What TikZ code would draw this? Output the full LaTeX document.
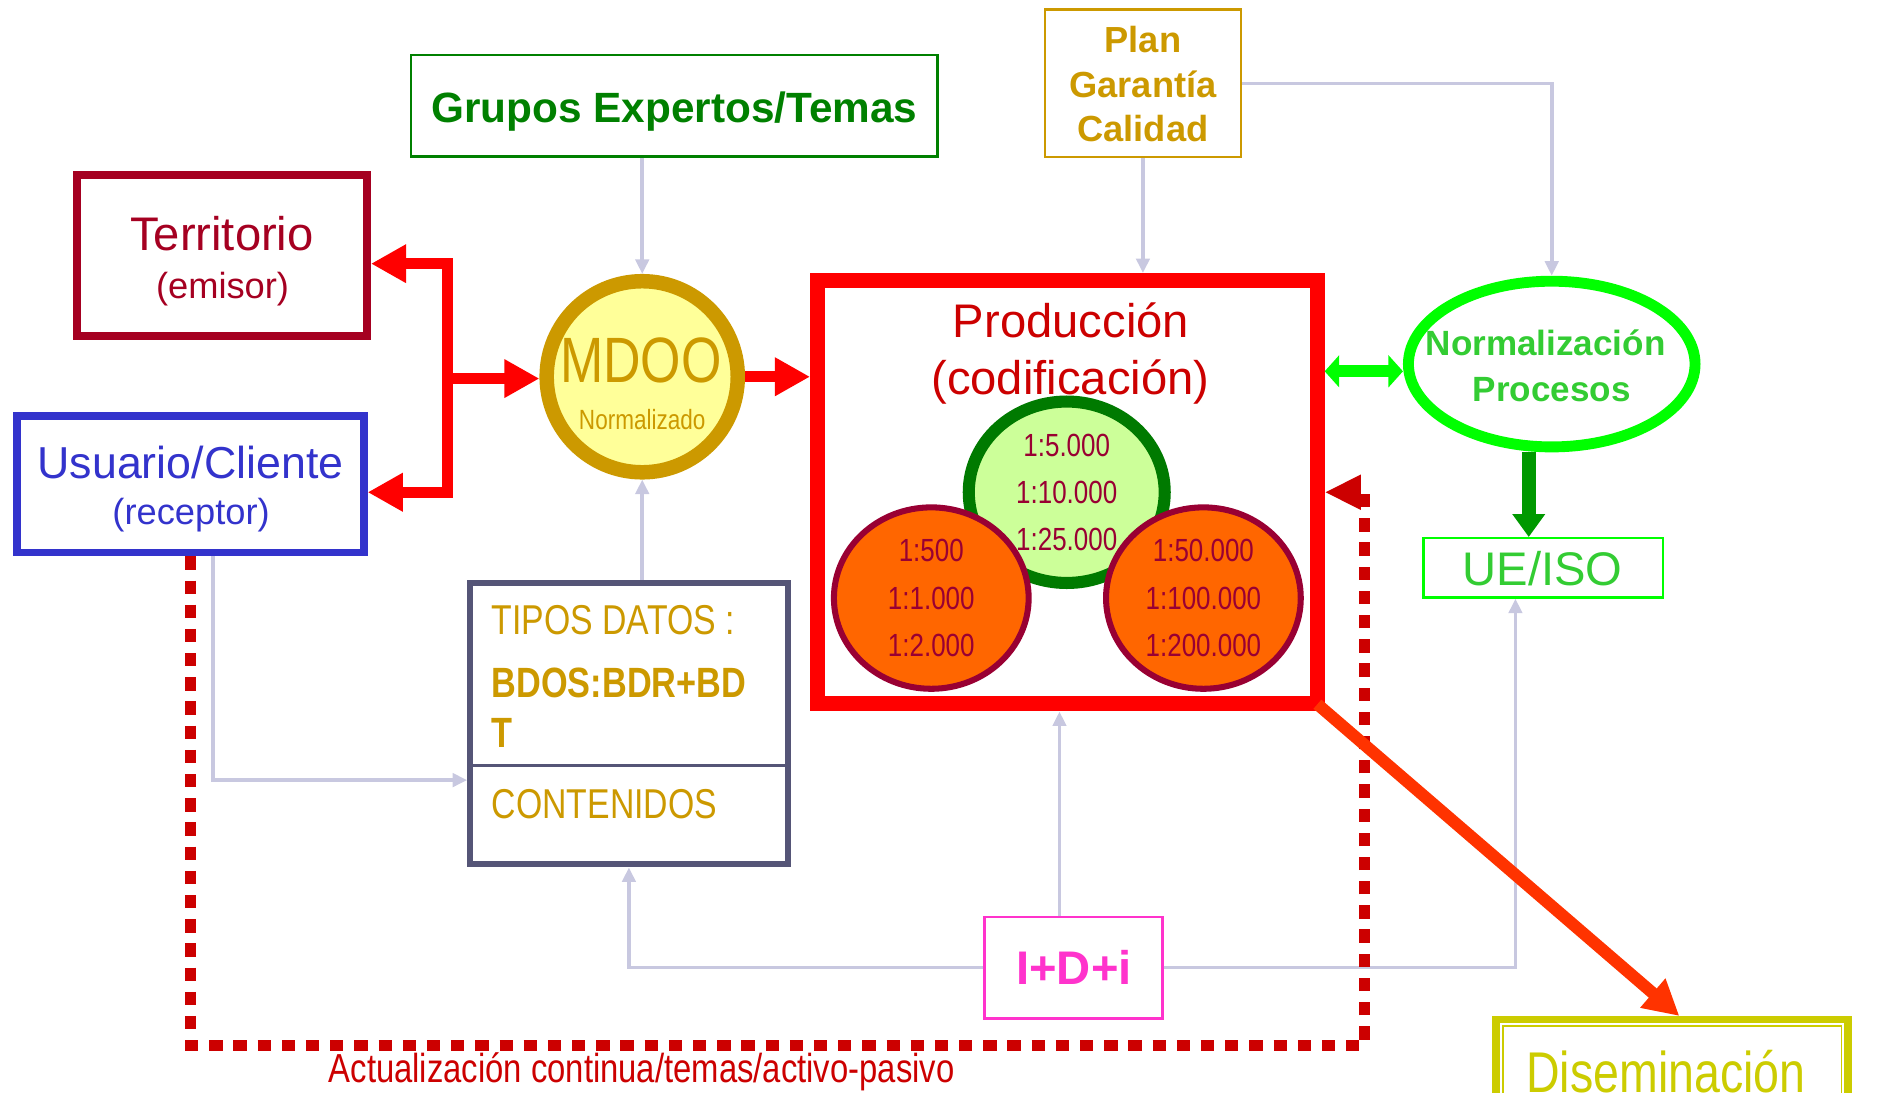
\documentclass[tikz,border=0pt]{standalone}
\usepackage{fontspec}
\setmainfont{Liberation Sans}
\newfontfamily\narrowfont[FakeStretch=0.81]{Liberation Sans}
\usetikzlibrary{arrows.meta}
\usetikzlibrary{calc}
\usetikzlibrary{positioning}
\usetikzlibrary{shapes}

\definecolor{terrred}{HTML}{A50021}
\definecolor{userblue}{HTML}{3333CC}
\definecolor{grupgreen}{HTML}{008000}
\definecolor{gold}{HTML}{CC9900}
\definecolor{mdoofill}{HTML}{FFFF99}
\definecolor{prodred}{HTML}{CC0000}
\definecolor{scalegreen}{HTML}{CCFF99}
\definecolor{scaleline}{HTML}{007A00}
\definecolor{scaletext}{HTML}{990033}
\definecolor{scaleorange}{HTML}{FF6600}
\definecolor{normline}{HTML}{00FF00}
\definecolor{normtext}{HTML}{33CC33}
\definecolor{darkgreen}{HTML}{009900}
\definecolor{slate}{HTML}{555577}
\definecolor{pink}{HTML}{FF33CC}
\definecolor{lav}{HTML}{C8C8E0}
\definecolor{disred}{HTML}{FF3300}
\definecolor{disyel}{HTML}{CCCC00}

\tikzset{
  box/.style={rectangle, draw, inner sep=0pt},
  lbl/.style={anchor=base, inner sep=0pt},
  escala/.style={ellipse, draw=scaletext, line width=5pt, fill=scaleorange,
    minimum width=161pt, minimum height=150pt, inner sep=0pt, align=center,
    text=scaletext, font=\narrowfont\fontsize{26.5}{39}\selectfont},
  conn/.style={draw=lav, line width=3pt, -{Triangle[length=12pt,width=11pt]}},
  redarrow/.style={draw=red, line width=9pt, -{Triangle[length=29pt,width=30pt]}},
  greenboth/.style={draw=normline, line width=10pt,
    {Triangle[length=12pt,width=26pt]}-{Triangle[length=12pt,width=26pt]}},
  greendown/.style={draw=darkgreen, line width=12pt, -{Triangle[length=19pt,width=26pt]}},
  feedback/.style={draw=prodred, line width=9pt, dash pattern=on 11pt off 9pt,
    -{Triangle[length=30pt,width=27pt]}},
  disarrow/.style={draw=disred, line width=10pt, -{Triangle[length=29pt,width=30pt]}}
}

\begin{document}
\begin{tikzpicture}[x=1pt,y=-1pt]
\useasboundingbox (0,0) rectangle (1566,903);
\clip (0,0) rectangle (1566,903);

% boxes
\node[box, draw=grupgreen, line width=2pt, minimum width=435pt, minimum height=84pt] (grupos) at (557.5,87.5) {};
\node[box, draw=gold, line width=2pt, minimum width=162pt, minimum height=122pt] (plan) at (945,69) {};
\node[box, draw=terrred, line width=6.5pt, minimum width=240pt, minimum height=133pt] (terr) at (183.5,211.5) {};
\node[box, draw=userblue, line width=6pt, minimum width=287pt, minimum height=113pt] (user) at (157.5,400.5) {};
\node[circle, draw=gold, fill=mdoofill, line width=12pt, minimum size=158pt, inner sep=0pt] (mdoo) at (531,311.5) {};
\node[box, draw=red, line width=12.5pt, minimum width=413pt, minimum height=350pt] (prod) at (882.5,407) {};
\node[ellipse, draw=normline, line width=9pt, minimum width=237pt, minimum height=137pt, inner sep=0pt] (norm) at (1283,301) {};
\node[box, draw=normline, line width=2pt, minimum width=198pt, minimum height=49pt] (ueiso) at (1276,469.5) {};
\node[box, draw=slate, line width=5pt, minimum width=262.5pt, minimum height=233pt] (tipos) at (520,598.2) {};
\node[box, draw=pink, line width=2pt, minimum width=147pt, minimum height=84pt] (idi) at (887.5,800) {};
\node[box, draw=disyel, line width=6pt, minimum width=291pt, minimum height=120pt, anchor=north] (disem) at (1382.5,840) {};
\draw[disyel, line width=1.5pt] ([shift={(8.5,8)}]disem.north west) rectangle ([shift={(-8.5,-8)}]disem.south east);
\coordinate (tdiv) at (520,633);
\draw[slate, line width=3pt] (tdiv -| tipos.west) -- (tdiv -| tipos.east);

% escalas
\node[escala, fill=scalegreen, draw=scaleline, line width=10pt, minimum width=162pt] (esc1) at (882,407) {1:5.000\\1:10.000\\1:25.000};
\node[escala] (esc2) at (770,494.5) {1:500\\1:1.000\\1:2.000};
\node[escala] (esc3) at (995,494.5) {1:50.000\\1:100.000\\1:200.000};

% textos
\node[lbl, text=grupgreen, font=\bfseries\fontsize{35}{40}\selectfont] (grupos-t) at (557.5,101) {Grupos Expertos/Temas};
\node[lbl, text=gold, font=\bfseries\fontsize{30}{36}\selectfont] (plan-a) at (945,43.2) {Plan};
\node[lbl, text=gold, font=\bfseries\fontsize{30}{36}\selectfont] (plan-b) at (945,80.7) {Garantía};
\node[lbl, text=gold, font=\bfseries\fontsize{30}{36}\selectfont] (plan-c) at (945,116.7) {Calidad};
\node[lbl, text=terrred, font=\fontsize{39}{44}\selectfont] (terr-a) at (183.5,207) {Territorio};
\node[lbl, text=terrred, font=\fontsize{30}{36}\selectfont] (terr-b) at (184,247) {(emisor)};
\node[lbl, text=userblue, font=\fontsize{37}{44}\selectfont] (user-a) at (157.5,396) {Usuario/Cliente};
\node[lbl, text=userblue, font=\fontsize{30}{36}\selectfont] (user-b) at (158,434) {(receptor)};
\node[lbl, text=gold, font=\narrowfont\fontsize{53}{60}\selectfont] (mdoo-a) at (530,316.5) {MDOO};
\node[lbl, text=gold, font=\narrowfont\fontsize{23}{28}\selectfont] (mdoo-b) at (531,355) {Normalizado};
\node[lbl, text=prodred, font=\fontsize{39}{44}\selectfont] (prod-a) at (885.5,279) {Producción};
\node[lbl, text=prodred, font=\fontsize{39}{44}\selectfont] (prod-b) at (885,326) {(codificación)};
\node[lbl, text=normtext, font=\bfseries\fontsize{29}{34}\selectfont] (norm-a) at (1278,294) {Normalización};
\node[lbl, text=normtext, font=\bfseries\fontsize{29}{34}\selectfont] (norm-b) at (1283,332) {Procesos};
\node[lbl, text=normtext, font=\fontsize{39}{44}\selectfont] (ueiso-t) at (1275.5,484) {UE/ISO};
\node[lbl, anchor=base west, text=gold, font=\narrowfont\fontsize{34.5}{40}\selectfont] (tipos-a) at (406.4,524.8) {TIPOS DATOS :};
\node[lbl, anchor=base west, text=gold, font=\narrowfont\bfseries\fontsize{35}{40}\selectfont] (tipos-b) at (406.4,576.4) {BDOS:BDR+BD};
\node[lbl, anchor=base west, text=gold, font=\narrowfont\bfseries\fontsize{35}{40}\selectfont] (tipos-c) at (406.4,618.4) {T};
\node[lbl, anchor=base west, text=gold, font=\narrowfont\fontsize{34.5}{40}\selectfont] (tipos-d) at (406.4,676.4) {CONTENIDOS};
\node[lbl, text=pink, font=\bfseries\fontsize{39}{44}\selectfont] (idi-t) at (888,814) {I+D+i};
\node[lbl, text=prodred, font=\narrowfont\fontsize{33.5}{40}\selectfont] (actu) at (530.5,895) {Actualización continua/temas/activo-pasivo};
\node[lbl, text=disyel, font=\narrowfont\fontsize{47.5}{52}\selectfont] (disem-t) at (1377.5,903.6) {Diseminación};

% conectores finos
\draw[conn] (grupos.south -| mdoo.north) -- (mdoo.north);
\draw[conn] (plan.south) -- (plan.south |- prod.north);
\draw[conn] (plan.east) -| (norm.north);
\draw[conn] (tipos.north -| mdoo.south) -- (mdoo.south);
\coordinate (ut) at ([xshift=18.5pt]user.south);
\draw[conn] (ut) |- ([yshift=-46.8pt]tipos.west);
\coordinate (ip) at ([xshift=-11.5pt]idi.north);
\draw[conn] (ip) -- (ip |- prod.south);
\draw[conn] (idi.west) -| (tipos.south);
\draw[conn] (idi.east) -| ([xshift=-23pt]ueiso.south);

% flechas gruesas
\coordinate (jn) at (370,313);
\draw[redarrow] (jn) |- ([yshift=-6.5pt]terr.east);
\draw[redarrow] (jn) |- ([yshift=-6.5pt]user.east);
\draw[redarrow] (jn) -- (jn -| mdoo.west);
\draw[redarrow] (mdoo.east) -- (mdoo.east -| prod.west);
\coordinate (gl) at ([yshift=-6pt]norm.west);
\draw[greenboth] (gl -| prod.east) -- (gl);
\coordinate (gd) at ([xshift=-19pt]norm.south);
\draw[greendown] (gd) -- (gd |- ueiso.north);
\coordinate (fbr) at (1128,864.5);
\draw[feedback] (user.south) |- (fbr) |- (prod.east);
\draw[disarrow] ([shift={(-6,-6)}]prod.south east) -- ([xshift=6pt]disem.north);
\end{tikzpicture}
\end{document}
